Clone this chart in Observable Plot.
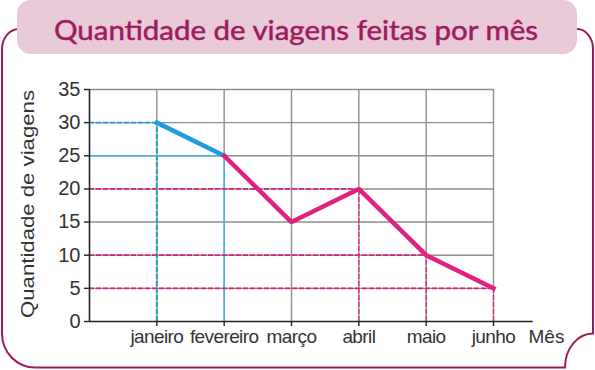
<!DOCTYPE html>
<html>
<head>
<meta charset="utf-8">
<script src="https://cdn.jsdelivr.net/npm/d3@7"></script>
<script src="https://cdn.jsdelivr.net/npm/@observablehq/plot@0.6"></script>
<style>
  html, body { margin: 0; padding: 0; background: #fff; }
  #wrap { position: relative; width: 595px; height: 370px; overflow: hidden; }
  #wrap > svg { position: absolute; left: 0; top: 0; }
  #deco { pointer-events: none; }
  g[aria-label="x-axis tick label"] text { letter-spacing: -0.6px; }
</style>
</head>
<body>
<div id="wrap"></div>
<script>
// ---- data ----
const months = ["janeiro", "fevereiro", "março", "abril", "maio", "junho"];
const viagens = [30, 25, 15, 20, 10, 5];
const yTicks = [0, 5, 10, 15, 20, 25, 30, 35];
const guideMonths = ["janeiro", "fevereiro", "abril", "maio", "junho"];
const title = "Quantidade de viagens feitas por mês";
const yLabel = "Quantidade de viagens";
const xLabel = "Mês";

const data = months.map((m, k) => ({mes: m, i: k + 1, v: viagens[k]}));
const blueGuides = data.filter(d => d.mes === "janeiro");
const lightGuides = data.filter(d => d.mes === "fevereiro");
const pinkGuides = data.filter(d => guideMonths.includes(d.mes) && d.i > 2);

const BLUE = "#1d9de0", LIGHT = "#40b5ea", PINK = "#e1207f", GRID = "#8e8e8e";

const chart = Plot.plot({
  width: 595,
  height: 370,
  marginTop: 89,
  marginBottom: 49,
  marginLeft: 89,
  marginRight: 102,
  style: {fontFamily: "'Liberation Sans', Arial, sans-serif", fontSize: "19px", color: "#333", background: "transparent"},
  x: {domain: [0, 6]},
  y: {domain: [0, 35]},
  marks: [
    // grid
    Plot.ruleY(yTicks.filter(t => t > 0), {x1: 0, x2: 6, stroke: GRID, strokeWidth: 1.4}),
    Plot.ruleX(data, {x: "i", y1: 0, y2: 35, stroke: GRID, strokeWidth: 1.4}),
    // guides
    Plot.ruleY(blueGuides, {y: "v", x1: 0, x2: "i", stroke: BLUE, strokeWidth: 1.8, strokeDasharray: "5,2"}),
    Plot.ruleX(blueGuides, {x: "i", y1: 0, y2: "v", stroke: BLUE, strokeWidth: 2, strokeDasharray: "5,2"}),
    Plot.ruleY(lightGuides, {y: "v", x1: 0, x2: "i", stroke: LIGHT, strokeWidth: 1.2}),
    Plot.ruleX(lightGuides, {x: "i", y1: 0, y2: "v", stroke: LIGHT, strokeWidth: 1.2}),
    Plot.ruleY(pinkGuides, {y: "v", x1: 0, x2: "i", stroke: PINK, strokeWidth: 1.7, strokeDasharray: "5,2"}),
    Plot.ruleX(pinkGuides, {x: "i", y1: 0, y2: "v", stroke: PINK, strokeWidth: 1.3, strokeDasharray: "5,2"}),
    // axes lines
    Plot.ruleX([0], {y1: 0, y2: 35, stroke: "#222", strokeWidth: 1.6}),
    Plot.ruleY([0], {x1: 0, x2: 6.59, stroke: "#222", strokeWidth: 1.6}),
    Plot.axisY({ticks: yTicks, tickSize: 5, tickPadding: 4, label: null, stroke: "#222", strokeWidth: 1.4, fill: "#333", fontSize: 20}),
    Plot.axisX({ticks: data.map(d => d.i), tickFormat: i => months[i - 1], tickSize: 5, tickPadding: 3, label: null, stroke: "#222", strokeWidth: 1.4, fill: "#333"}),
    Plot.text([xLabel], {frameAnchor: "bottom-right", text: d => d, textAnchor: "start", lineAnchor: "top", dx: 35, dy: 8, fill: "#333", fontSize: 19}),
    // series
    Plot.line(data.slice(0, 2), {x: "i", y: "v", stroke: BLUE, strokeWidth: 4.5, strokeLinecap: "square"}),
    Plot.line(data.slice(1), {x: "i", y: "v", stroke: PINK, strokeWidth: 4.5, strokeLinecap: "square", strokeLinejoin: "miter"})
  ]
});

const wrap = document.getElementById("wrap");
wrap.appendChild(chart);

// decoration: frame, title box, rotated y label
const ns = "http://www.w3.org/2000/svg";
const deco = document.createElementNS(ns, "svg");
deco.setAttribute("id", "deco");
deco.setAttribute("width", 595);
deco.setAttribute("height", 370);
deco.innerHTML = `
  <path d="M 19 29 A 17 20 0 0 0 2 49 L 2 334 A 33 34 0 0 0 35 367.5 L 565 367.5 A 28 34 0 0 1 593 333.5 L 593 49 A 16 20 0 0 0 577 29"
        fill="none" stroke="#9c1b5f" stroke-width="2"/>
  <rect x="17" y="0" width="560" height="54" rx="14" ry="14" fill="#e8cad8"/>
  <text x="54" y="39.5" textLength="484" lengthAdjust="spacingAndGlyphs"
        font-family="Lato, 'Open Sans', sans-serif" font-weight="400" font-size="27" fill="#a01a5f"
        stroke="#a01a5f" stroke-width="0.5">${title}</text>
  <text transform="translate(34,204) rotate(-90)" text-anchor="middle" textLength="228" lengthAdjust="spacingAndGlyphs"
        font-family="'Liberation Sans', Arial, sans-serif" font-size="18" fill="#333">${yLabel}</text>
`;
wrap.appendChild(deco);
</script>
</body>
</html>
